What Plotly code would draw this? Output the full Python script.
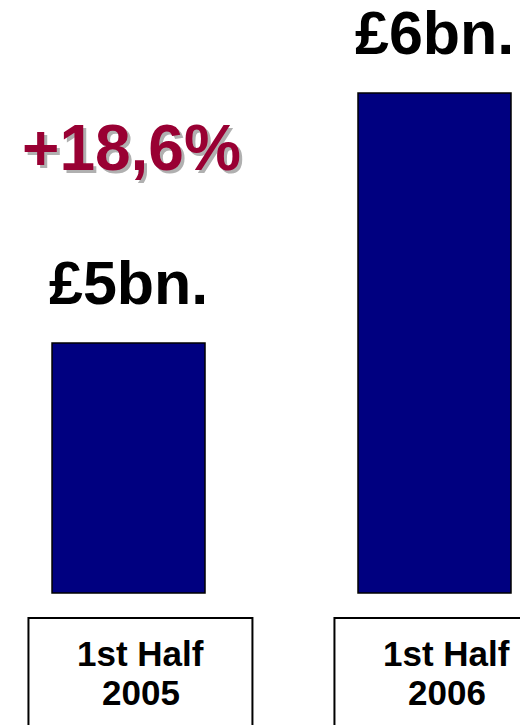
import plotly.graph_objects as go

# Half-year totals, £ billions
periods = ["1st Half 2005", "1st Half 2006"]
period_lines = [["1st Half", "2005"], ["1st Half", "2006"]]
values = [5, 6]
value_labels = ["£5bn.", "£6bn."]
growth_label = "+18,6%"

AXIS_FLOOR = 4  # value axis starts here
FONT = "Liberation Sans, Arial, sans-serif"

fig = go.Figure()
fig.add_trace(go.Bar(
    x=periods,
    y=[v - AXIS_FLOOR for v in values],
    base=AXIS_FLOOR,
    width=0.5,
    marker=dict(color="#000080", line=dict(color="#000000", width=1.5)),
    hoverinfo="skip",
))

annotations = []
# value labels above each bar
for i, (v, lab) in enumerate(zip(values, value_labels)):
    annotations.append(dict(
        x=i, y=v, xref="x", yref="y", text=f"<b>{lab}</b>",
        showarrow=False, xanchor="center", yanchor="middle", yshift=60,
        borderpad=0,
        font=dict(family=FONT, size=61, color="#000000"),
    ))

# growth figure with drop shadow
annotations.append(dict(
    x=131 / 520, y=0.7952, xref="paper", yref="paper",
    text=f"<b>{growth_label}</b>", showarrow=False,
    xanchor="center", yanchor="middle",
    font=dict(family=FONT, size=64, color="#990033",
              shadow="3px 3px 0px #b0b0b0"),
))

# boxed period captions
shapes = []
for i, lines in enumerate(period_lines):
    shapes.append(dict(
        type="rect", xref="x", yref="y",
        x0=i - 0.327, x1=i + 0.405, y0=3.2, y1=3.9,
        line=dict(color="#000000", width=2), fillcolor="rgba(0,0,0,0)",
    ))
    for line, ypos in zip(lines, [0.0993, 0.0448]):
        annotations.append(dict(
            x=i, y=ypos, xref="x", yref="paper", xshift=12,
            text=f"<b>{line}</b>", showarrow=False,
            xanchor="center", yanchor="middle",
            font=dict(family=FONT, size=35, color="#000000"),
        ))

fig.update_layout(
    width=520, height=725,
    margin=dict(l=0, r=0, t=0, b=0),
    paper_bgcolor="#ffffff", plot_bgcolor="#ffffff",
    showlegend=False,
    xaxis=dict(range=[-0.42, 1.2794], visible=False, type="category"),
    yaxis=dict(range=[3.472, 6.372], visible=False),
    annotations=annotations,
    shapes=shapes,
)

fig.write_html("out.html")
